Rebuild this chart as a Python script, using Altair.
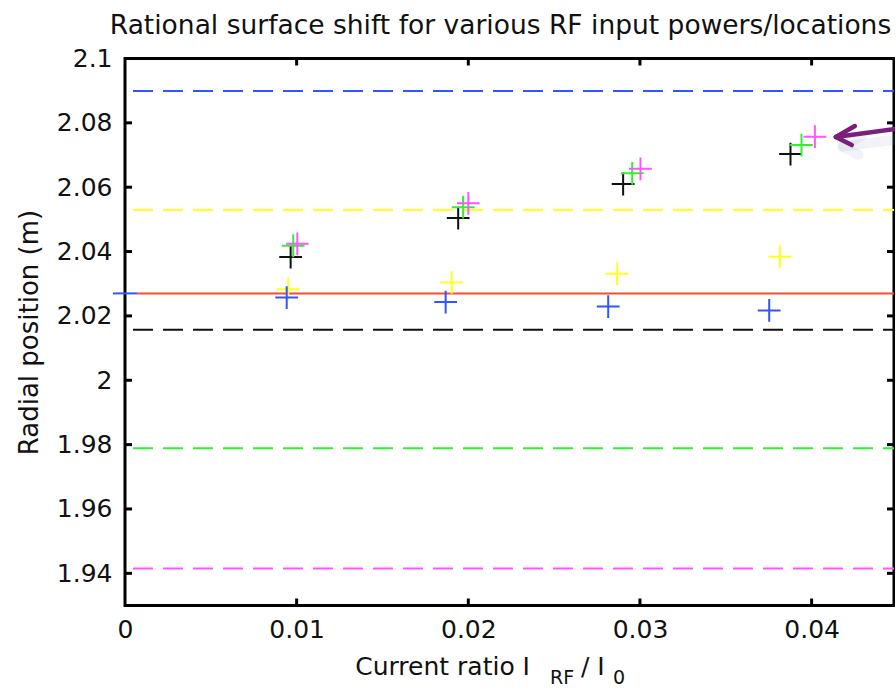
import altair as alt
import pandas as pd

# ---------------- data ----------------
title_text = "Rational surface shift for various RF input powers/locations"
y_title = "Radial position (m)"
x_title_parts = ["Current ratio I", "RF", "/ I", "0"]

x_ticks = [0, 0.01, 0.02, 0.03, 0.04]
y_ticks = [1.94, 1.96, 1.98, 2.0, 2.02, 2.04, 2.06, 2.08, 2.1]

# plus-marker series
x_black = [0.00965, 0.01941, 0.02902, 0.03877]
y_black = [2.0383, 2.0504, 2.0610, 2.0703]
x_green = [0.0098, 0.0197, 0.02955, 0.03941]
y_green = [2.0418, 2.0538, 2.0643, 2.0731]
x_magenta = [0.01004, 0.0200, 0.03003, 0.04019]
y_magenta = [2.0424, 2.0550, 2.0657, 2.0757]
x_yellow = [0.00951, 0.01903, 0.02867, 0.03815]
y_yellow = [2.0283, 2.0304, 2.0331, 2.0384]
x_blue = [0.00942, 0.01868, 0.02815, 0.03753]
y_blue = [2.0257, 2.0243, 2.0229, 2.0217]

# horizontal reference lines
dash_names = ["blue", "yellow", "black", "green", "magenta"]
dash_values = [2.0899, 2.0529, 2.0157, 1.9789, 1.9415]
red_value = 2.0270

# arrow annotation (data units)
arrow_shaft_x = [0.04141, 0.04490]
arrow_shaft_y = [2.0756, 2.0781]
arrow_head_x = [0.04252, 0.04141, 0.04234]
arrow_head_y = [2.0790, 2.0756, 2.0731]

colors = {
    "black": "#111111",
    "green": "#22ee22",
    "magenta": "#ff55ff",
    "yellow": "#f2f200",
    "blue": "#2244ff",
}
dash_colors = {
    "blue": "#3355ff",
    "yellow": "#ffff22",
    "black": "#111111",
    "green": "#33ee33",
    "magenta": "#ff55ff",
}

FONT = "DejaVu Sans"
W, H = 769, 547
XDOM = [0, 0.0448]
YDOM = [1.93, 2.1]

xs = alt.Scale(domain=XDOM, nice=False, zero=False)
ys = alt.Scale(domain=YDOM, nice=False, zero=False)

# ---------------- tables ----------------
pts = []
for name, xx, yy in [("black", x_black, y_black), ("green", x_green, y_green),
                     ("magenta", x_magenta, y_magenta), ("yellow", x_yellow, y_yellow),
                     ("blue", x_blue, y_blue)]:
    for a, b in zip(xx, yy):
        pts.append({"series": name, "x": a, "y": b})
pts = pd.DataFrame(pts)

dash_df = pd.DataFrame({"series": dash_names, "y": dash_values})

one = pd.DataFrame({"a": [0]})

# ---------------- layers ----------------
base_x_axis = alt.Axis(values=x_ticks, format=".2~f", tickSize=0, domain=False, grid=False,
                       labelFont=FONT, labelFontSize=25, labelColor="#111", labelPadding=12,
                       labelFlush=False, labelOverlap=False, title=None)
base_y_axis = alt.Axis(values=y_ticks, format=".2~f", tickSize=0, domain=False, grid=False,
                       labelFont=FONT, labelFontSize=25, labelColor="#111", labelPadding=13,
                       labelFlush=False, labelOverlap=False, title=y_title, titleFont=FONT,
                       titleFontSize=26, titleFontWeight="normal", titleColor="#111",
                       titlePadding=14)

dashes = alt.Chart(dash_df).mark_rule(strokeWidth=2, strokeDash=[20, 10], strokeDashOffset=22).encode(
    y=alt.Y("y:Q", scale=ys, axis=base_y_axis),
    x=alt.value(0), x2=alt.value(W),
    color=alt.Color("series:N", scale=alt.Scale(domain=list(dash_colors.keys()),
                                                 range=list(dash_colors.values())), legend=None),
)

red_df = pd.DataFrame({"y": [red_value]})
red_line = alt.Chart(red_df).mark_rule(strokeWidth=2, color="#ff4a2e").encode(
    y=alt.Y("y:Q", scale=ys), x=alt.value(12), x2=alt.value(W))
blue_stub = alt.Chart(red_df).mark_rule(strokeWidth=2, color="#3355ff").encode(
    y=alt.Y("y:Q", scale=ys), x=alt.value(-12), x2=alt.value(12))

pluses = alt.Chart(pts).mark_point(shape="M-1,0L1,0M0,-1L0,1", filled=False, size=520,
                                   strokeWidth=2, opacity=1).encode(
    x=alt.X("x:Q", scale=xs, axis=base_x_axis),
    y=alt.Y("y:Q", scale=ys),
    color=alt.Color("series:N", scale=alt.Scale(domain=list(colors.keys()),
                                                 range=list(colors.values())), legend=None),
)

# inward ticks (MATLAB style) on all four sides
yt = pd.DataFrame({"v": y_ticks[:-1]})
xt = pd.DataFrame({"v": x_ticks[1:]})
tick_l = alt.Chart(yt).mark_rule(strokeWidth=3, color="black").encode(
    y=alt.Y("v:Q", scale=ys), x=alt.value(0), x2=alt.value(7))
tick_r = alt.Chart(yt).mark_rule(strokeWidth=3, color="black").encode(
    y=alt.Y("v:Q", scale=ys), x=alt.value(W - 7), x2=alt.value(W))
tick_b = alt.Chart(xt).mark_rule(strokeWidth=3, color="black").encode(
    x=alt.X("v:Q", scale=xs), y=alt.value(H - 7), y2=alt.value(H))
tick_t = alt.Chart(xt).mark_rule(strokeWidth=3, color="black").encode(
    x=alt.X("v:Q", scale=xs), y=alt.value(0), y2=alt.value(7))

# arrow annotation
shaft = pd.DataFrame({"x": arrow_shaft_x, "y": arrow_shaft_y, "o": [0, 1]})
head = pd.DataFrame({"x": arrow_head_x, "y": arrow_head_y, "o": [0, 1, 2]})
sh_dx, sh_dy = 0.0004, -0.0030
shaft_sh = shaft.assign(x=shaft.x + sh_dx, y=shaft.y + sh_dy)
head_sh = head.assign(x=head.x + sh_dx, y=head.y + sh_dy)

def arrow_line(df, color, width, opacity):
    return alt.Chart(df).mark_line(color=color, strokeWidth=width, opacity=opacity,
                                   strokeCap="round", strokeJoin="round").encode(
        x=alt.X("x:Q", scale=xs), y=alt.Y("y:Q", scale=ys), order="o:Q")

arrow = (arrow_line(shaft_sh, "#8fa0b2", 10, 0.12) + arrow_line(head_sh, "#8fa0b2", 10, 0.12)
         + arrow_line(shaft, "#7a1f7a", 4.5, 1) + arrow_line(head, "#7a1f7a", 4.5, 1))

# title and x-axis title (with subscripts) as text marks
def txt(s, xpx, ypx, size, align="left"):
    return alt.Chart(one).mark_text(text=s, align=align, baseline="alphabetic", font=FONT,
                                    fontSize=size, color="#111").encode(
        x=alt.value(xpx), y=alt.value(ypx))

title_mark = txt(title_text, 375.5, -24.5, 26.5, "center")
xlab = (txt(x_title_parts[0], 405, 616.5, 25, "right") + txt(x_title_parts[1], 425, 625, 19)
        + txt(x_title_parts[2], 456, 616.5, 25) + txt(x_title_parts[3], 488, 625, 19))

chart = alt.layer(
    dashes, red_line, blue_stub, pluses, tick_l, tick_r, tick_b, tick_t, arrow, xlab, title_mark
).properties(
    width=W, height=H,
    background="white",
    padding={"left": 125, "top": 58.5, "right": 1, "bottom": 85},
    autosize=alt.AutoSizeParams(type="none"),
).configure_view(stroke="black", strokeWidth=3)

chart.save("out.html", embed_options={"renderer": "svg", "actions": False})
